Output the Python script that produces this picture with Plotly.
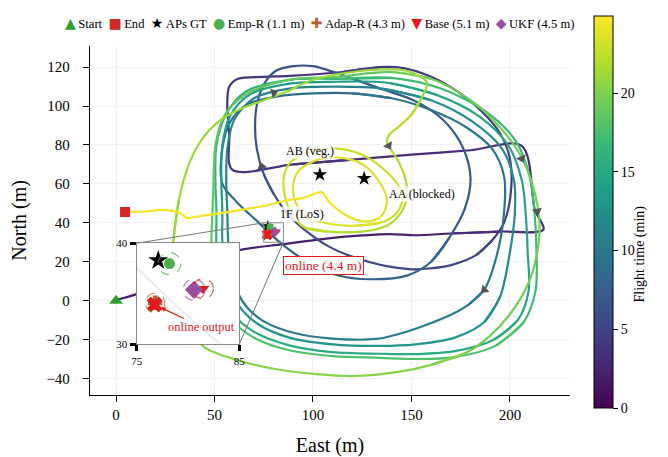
import numpy as np
import plotly.graph_objects as go
from plotly.colors import sample_colorscale

# ---------------- data ----------------
T_MAX = 24.9  # flight time at the top of the colour bar (min)

SEG_A = [(0, 0.3), (11, 3.5), (30, 12), (50, 21), (63, 26), (85, 29), (108, 32), (125, 33.5),
         (139, 34.2), (152, 33.6), (170, 34.5), (195, 35.5), (217, 36.5)]
SEG_B = [(217, 36.5), (212.7, 46.6), (206, 79.5), (180, 77.3), (150, 75), (120, 72.5), (90, 70), (59, 67.3)]
SEG_C = [(59, 67.3), (57.5, 85), (56.5, 100), (57.5, 110), (62, 114), (75, 115), (88, 115.5), (115, 117.5),
         (134, 120), (146, 119.5), (160, 115), (174, 107), (186, 97), (195, 86), (200, 73), (200.5, 56),
         (197, 40), (191, 31), (183, 23.5), (171, 18.5), (159, 16.5), (149, 16.2)]
SEG_D = [(149, 16.2), (129, 19.7), (107, 28.4), (88, 43.5), (80, 55), (75, 65), (71.5, 78), (70.6, 90),
         (71.6, 101), (75, 111), (81, 118), (90, 120.5), (100, 120.5), (112, 117), (134, 109), (151, 103),
         (166, 93), (176, 79), (180, 63), (177, 47), (169, 32), (160, 20), (148, 13), (129, 11), (112, 13.2),
         (95, 21.3), (82, 31), (72, 40.5), (61, 51), (54, 60)]
LOOP_A = [(54, 60), (54, 78), (58, 92), (67, 101), (82, 105), (100, 106.5), (120, 106.5), (140, 104),
          (160, 98), (178, 89), (191, 78), (197, 64), (197, 45), (193, 22), (187, 5.6), (179, -2),
          (169.5, -7.5), (156, -13), (144, -17), (132, -19.7), (110, -19.5), (90, -16.5), (74, -10),
          (64, 0), (59, 14), (57, 30), (56.5, 46), (56, 60)]
LOOP_B = [(56, 60), (56.5, 78), (60, 93), (70, 104), (88, 109), (112, 110), (135, 109), (160, 103),
          (181, 92), (196, 78), (202, 62), (202.5, 45), (199.5, 22), (195, 2), (187, -11), (172, -19),
          (152, -22.5), (134, -23.3), (110, -22.5), (88, -19), (72, -12), (62, -2), (56, 12), (54, 30),
          (54, 46), (53.5, 60)]
LOOP_C = [(53.5, 60), (54, 80), (58, 95), (68, 106), (88, 111.5), (112, 112.5), (138, 112), (162, 106),
          (184, 95), (199, 80), (206, 62), (208, 45), (209, 25), (209.5, 5), (204, -10), (192, -20),
          (172, -26), (152, -27.5), (134, -27.3), (110, -26.5), (88, -23), (70, -16), (59, -6), (53, 8),
          (51, 28), (51, 46), (50.5, 60)]
LOOP_D = [(50.5, 60), (51, 80), (56, 96), (66, 107.5), (88, 113.5), (112, 114), (140, 114.5), (165, 109),
          (188, 97), (203, 82), (210, 64), (212.5, 45), (213.5, 25), (213, 5), (207, -11), (193, -23),
          (172, -29), (152, -30), (134, -29.4), (110, -28.5), (88, -25.5), (70, -19), (58, -9), (51, 6),
          (48.5, 28), (49, 46), (49.5, 60)]
LOOP_E = [(49.5, 60), (50.5, 80), (55, 95), (66, 106), (88, 113.5), (112, 115), (140, 117.5), (160, 114),
          (180, 103), (195, 89), (205, 75.4), (211.7, 58.7), (215, 40), (213.6, 23.3), (209, 8), (200, -7),
          (190, -18), (178, -26.7), (160, -33), (144, -36.5), (120, -38.8), (102, -37.8), (80, -35),
          (63, -31), (45, -24), (33, -10), (28, 8), (29, 30), (32, 52), (37, 70), (43, 82), (52, 92),
          (62, 98), (75, 103), (88, 108), (98.5, 113), (120, 117.5), (144, 118.7), (153, 116), (158, 112)]
SEG_W = [(158, 112), (155, 104), (150, 95.5), (143, 89), (138.5, 85), (137.6, 81), (140, 77), (144, 70.4),
         (147.5, 60), (147, 50), (143, 43), (137.6, 38.5), (125, 35.5)]
SEG_Y = [(125, 35.5), (108, 35.5), (96, 37.5), (89, 45), (85.5, 55), (85.5, 65), (89, 71.5), (100, 77),
         (113.7, 78), (127, 74), (137.6, 66), (144, 58), (145, 50), (141, 43.5), (134, 40), (122, 38.5),
         (108, 39.5), (97, 43), (91, 51), (90, 60), (93, 67), (104, 73), (117, 73), (126, 69.5), (133, 62),
         (137.6, 52), (135.5, 44.5), (130, 41), (122, 41.5), (115, 45), (108, 51), (104.5, 55.7)]
SEG_Z = [(104.5, 55.7), (95, 52.7), (86.8, 51.6), (78, 49.3), (63, 46.5), (50, 44.5), (40, 43), (36, 42.5),
         (32.5, 45), (24, 46.6), (15, 45.8), (8.6, 45.6), (4.6, 45.6)]

# (waypoints, time at first point, time at last point)  [min]
SEGMENTS = [(SEG_A, 1.6, 2.7), (SEG_B, 2.7, 3.5), (SEG_C, 3.5, 5.2), (SEG_D, 5.2, 8.5),
            (LOOP_A, 8.5, 11.0), (LOOP_B, 11.0, 13.5), (LOOP_C, 13.5, 16.0), (LOOP_D, 16.0, 18.5),
            (LOOP_E, 18.5, 21.5), (SEG_W, 21.5, 22.3), (SEG_Y, 22.3, 24.2), (SEG_Z, 24.2, 24.9)]

ARROW_AT = [(80, 107), (74, 69), (139, 80), (206, 73), (213.5, 46), (187, 5.6)]

START = (0, 0)
END = (4.6, 45.6)
AP_X = [103.5, 126.0, 77.1]
AP_Y = [64.8, 62.8, 38.3]

METHODS = ["Emp-R", "Adap-R", "Base", "UKF"]
METHOD_ERR = [1.1, 4.3, 5.1, 4.5]
METHOD_X = [78.2, 76.8, 81.47, 80.59]
METHOD_Y = [37.98, 34.1, 35.49, 35.39]
METHOD_R = [1.1, 0.95, 1.0, 1.05]
ONLINE_X, ONLINE_Y, ONLINE_ERR = 76.75, 33.93, 4.4

ZONE_LABELS = ["AB (veg.)", "AA (blocked)", "1F (LoS)"]
ZONE_X = [98.5, 155.3, 94.4]
ZONE_Y = [77.0, 54.7, 44.6]

X_TICKS = [0, 50, 100, 150, 200]
Y_TICKS = [-40, -20, 0, 20, 40, 60, 80, 100, 120]
CB_TICKS = [0, 5, 10, 15, 20]
INSET_X = [75, 85]
INSET_Y = [30, 40]

# ---------------- styles ----------------
FONT = "Liberation Serif"
SYM_FONT = "DejaVu Sans"
M_SYMBOL = ["circle", "cross", "triangle-down", "diamond"]
M_COLOR = ["#4daf4a", "#b5602c", "#e41a1c", "#984ea3"]
M_GLYPH = ["●", "✚", "▼", "◆"]
M_SIZE_MAIN = [7, 8, 8, 8]
M_SIZE_IN = [11, 12, 11, 14]
START_C, END_C, ONLINE_C = "#2ca02c", "#d62728", "#e41a1c"
XR = [-13.2, 230.5]
YR = [-48.6, 131.1]
Y_DOM = [0.0327, 0.9246]
IN_DX = [0.0973, 0.311]
IN_DY = [0.1626, 0.4204]

# ---------------- build path ----------------
xs, ys, ts = [], [], []
for pts, t0, t1 in SEGMENTS:
    p = np.array(pts, float)
    d = np.r_[0, np.cumsum(np.hypot(*np.diff(p, axis=0).T))]
    tt = t0 + (t1 - t0) * d / d[-1]
    s = 0 if not xs else 1
    xs += list(p[s:, 0]); ys += list(p[s:, 1]); ts += list(tt[s:])
xs, ys, ts = np.array(xs), np.array(ys), np.array(ts)

fig = go.Figure()

NB = 30
bins = np.minimum((ts / T_MAX * NB).astype(int), NB - 1)
runs = []
i = 0
while i < len(xs):
    j = i
    while j + 1 < len(xs) and bins[j + 1] == bins[i]:
        j += 1
    runs.append((i, j))
    i = j + 1
for (i0, i1) in runs:
    a = max(i0 - 1, 0)
    b = min(i1 + 1, len(xs) - 1)
    col = sample_colorscale("Viridis", [float(np.mean(ts[a:b + 1])) / T_MAX])[0]
    fig.add_trace(go.Scatter(x=xs[a:b + 1], y=ys[a:b + 1], mode="lines",
                             line=dict(color=col, width=2.2, shape="spline", smoothing=0.9),
                             hoverinfo="skip", showlegend=False))

# direction arrows snapped onto the path
ax_, ay_, ang_ = [], [], []
for (px, py) in ARROW_AT:
    best = None
    for k in range(len(xs) - 1):
        p0 = np.array([xs[k], ys[k]]); p1 = np.array([xs[k + 1], ys[k + 1]])
        v = p1 - p0
        u = np.clip(np.dot(np.array([px, py]) - p0, v) / max(np.dot(v, v), 1e-9), 0, 1)
        q = p0 + u * v
        dd = np.hypot(*(q - np.array([px, py])))
        if best is None or dd < best[0]:
            best = (dd, q, v)
    ax_.append(best[1][0]); ay_.append(best[1][1])
    ang_.append(float(np.degrees(np.arctan2(best[2][0], best[2][1]))))
fig.add_trace(go.Scatter(x=ax_, y=ay_, mode="markers",
                         marker=dict(symbol="triangle-up", size=9, color="#555555", angle=ang_),
                         hoverinfo="skip", showlegend=False))

# faint path in inset
fig.add_trace(go.Scatter(x=xs, y=ys, mode="lines", xaxis="x2", yaxis="y2",
                         line=dict(color="rgba(60,110,150,0.12)", width=2, shape="spline"),
                         hoverinfo="skip", showlegend=False))

# colourbar carrier
fig.add_trace(go.Scatter(x=[xs[0]], y=[ys[0]], mode="markers",
                         marker=dict(size=0.1, opacity=0, color=[0], cmin=0, cmax=T_MAX,
                                     colorscale="Viridis", showscale=True,
                                     colorbar=dict(x=1.05, xanchor="left", y=0.5, yanchor="middle",
                                                   lenmode="fraction", len=1.0, thickness=19,
                                                   xpad=0, ypad=0,
                                                   outlinecolor="black", outlinewidth=1,
                                                   tickvals=CB_TICKS, ticks="outside", ticklen=5,
                                                   tickcolor="black", tickfont=dict(size=14))),
                         hoverinfo="skip", showlegend=False))

# markers in main plot and inset
for xa, ya, inset in (("x", "y", False), ("x2", "y2", True)):
    if not inset:
        fig.add_trace(go.Scatter(x=[START[0]], y=[START[1]], mode="markers",
                                 marker=dict(symbol="triangle-up", size=12, color=START_C),
                                 showlegend=False, hoverinfo="skip"))
        fig.add_trace(go.Scatter(x=[END[0]], y=[END[1]], mode="markers",
                                 marker=dict(symbol="square", size=10, color=END_C),
                                 showlegend=False, hoverinfo="skip"))
        fig.add_trace(go.Scatter(x=AP_X[:2], y=AP_Y[:2], mode="markers",
                                 marker=dict(symbol="star", size=11, color="black"),
                                 showlegend=False, hoverinfo="skip"))
    fig.add_trace(go.Scatter(x=AP_X[2:], y=AP_Y[2:], mode="markers", xaxis=xa, yaxis=ya,
                             marker=dict(symbol="star", size=15 if inset else 9, color="black"),
                             showlegend=False, hoverinfo="skip"))
    for k in range(len(METHODS)):
        fig.add_trace(go.Scatter(x=[METHOD_X[k]], y=[METHOD_Y[k]], mode="markers", xaxis=xa, yaxis=ya,
                                 marker=dict(symbol=M_SYMBOL[k],
                                             size=M_SIZE_IN[k] if inset else M_SIZE_MAIN[k],
                                             color=M_COLOR[k]),
                                 showlegend=False, hoverinfo="skip"))
    fig.add_trace(go.Scatter(x=[ONLINE_X], y=[ONLINE_Y], mode="markers", xaxis=xa, yaxis=ya,
                             marker=dict(symbol="x", size=14 if inset else 10, color=ONLINE_C),
                             showlegend=False, hoverinfo="skip"))

shapes = []
for k in range(len(METHODS)):
    shapes.append(dict(type="circle", xref="x2", yref="y2",
                       x0=METHOD_X[k] - METHOD_R[k], x1=METHOD_X[k] + METHOD_R[k],
                       y0=METHOD_Y[k] - METHOD_R[k], y1=METHOD_Y[k] + METHOD_R[k],
                       line=dict(color=M_COLOR[k], width=1.2, dash="dash"), opacity=0.7))
shapes.append(dict(type="rect", xref="x", yref="y", x0=INSET_X[0], x1=INSET_X[1], y0=INSET_Y[0],
                   y1=INSET_Y[1], line=dict(color="#888888", width=1)))


def px_(x):
    return (x - XR[0]) / (XR[1] - XR[0])


def py_(y):
    return Y_DOM[0] + (y - YR[0]) / (YR[1] - YR[0]) * (Y_DOM[1] - Y_DOM[0])


def ipx(x):
    return IN_DX[0] + (x - INSET_X[0]) / (INSET_X[1] - INSET_X[0]) * (IN_DX[1] - IN_DX[0])


def ipy(y):
    return IN_DY[0] + (y - INSET_Y[0]) / (INSET_Y[1] - INSET_Y[0]) * (IN_DY[1] - IN_DY[0])


for cx, cy in ((INSET_X[0], INSET_Y[1]), (INSET_X[1], INSET_Y[0])):
    shapes.append(dict(type="line", xref="paper", yref="paper", x0=px_(cx), y0=py_(cy),
                       x1=ipx(cx), y1=ipy(cy), line=dict(color="#777777", width=1)))

annotations = []
for lab, zx, zy in zip(ZONE_LABELS, ZONE_X, ZONE_Y):
    annotations.append(dict(x=zx, y=zy, xref="x", yref="y", text=lab, showarrow=False,
                            font=dict(size=12, color="black"), bgcolor="rgba(255,255,255,0.8)",
                            borderpad=0))
annotations.append(dict(x=105.2, y=18.1, xref="x", yref="y", text=f"online ({ONLINE_ERR} m)",
                        showarrow=False, font=dict(size=13.5, color=ONLINE_C), bgcolor="white",
                        bordercolor=ONLINE_C, borderwidth=1, borderpad=1))
annotations.append(dict(x=ONLINE_X + 0.6, y=ONLINE_Y - 0.3, xref="x2", yref="y2",
                        ax=81.34, ay=31.71, axref="x2", ayref="y2", text="online output",
                        showarrow=True, arrowhead=2, arrowsize=0.8, arrowwidth=1.2, arrowcolor=ONLINE_C,
                        font=dict(size=12.5, color=ONLINE_C), standoff=0, startstandoff=0))
# colour-bar title
annotations.append(dict(x=1.167, y=0.392, xref="paper", yref="paper", text="Flight time (min)",
                        textangle=-90, showarrow=False, font=dict(size=14, color="black")))
# legend strip
items = [(START_C, "▲", "Start"), (END_C, "■", "End"), ("black", "★", "APs GT")]
items += [(M_COLOR[k], M_GLYPH[k], f"{METHODS[k]} ({METHOD_ERR[k]} m)") for k in range(len(METHODS))]
leg = "\u00a0 ".join(f"<span style='color:{c};font-family:{SYM_FONT};font-size:14px'>{g}</span>"
                     f"\u2009{t}" for c, g, t in items)
annotations.append(dict(x=-0.056, y=0.9824, xref="paper", yref="paper", xanchor="left", yanchor="middle",
                        text=leg, showarrow=False, font=dict(size=12.6, color="black")))

axis_common = dict(showline=True, linecolor="black", linewidth=1.3, ticks="outside", ticklen=6,
                   tickwidth=1.3, tickcolor="black", zeroline=False, gridcolor="#f0f0f0",
                   tickfont=dict(size=15), automargin=False)
fig.update_layout(
    width=668, height=457, margin=dict(l=90, r=98, t=10, b=49),
    paper_bgcolor="white", plot_bgcolor="white",
    font=dict(family=FONT, color="black"),
    showlegend=False,
    xaxis=dict(range=XR, tickvals=X_TICKS, title=dict(text="East (m)", font=dict(size=20), standoff=16),
               **axis_common),
    yaxis=dict(range=YR, tickvals=Y_TICKS, domain=Y_DOM, ticklabelstandoff=10,
               title=dict(text="North (m)", font=dict(size=20), standoff=14), **axis_common),
    xaxis2=dict(domain=IN_DX, anchor="y2", range=INSET_X, tickvals=INSET_X, showgrid=False,
                showline=True, mirror=True, linecolor="#888888", linewidth=1.3, ticks="outside",
                ticklen=6, tickwidth=2.5, tickcolor="black", zeroline=False, tickfont=dict(size=11)),
    yaxis2=dict(domain=IN_DY, anchor="x2", range=INSET_Y, tickvals=INSET_Y, showgrid=False,
                showline=True, mirror=True, linecolor="#888888", linewidth=1.3, ticks="outside",
                ticklen=6, tickwidth=2.5, tickcolor="black", zeroline=False, tickfont=dict(size=11)),
    shapes=shapes, annotations=annotations,
)
fig.write_html("out.html", config={"displayModeBar": False},
               post_script="document.body.style.margin='0px';")
